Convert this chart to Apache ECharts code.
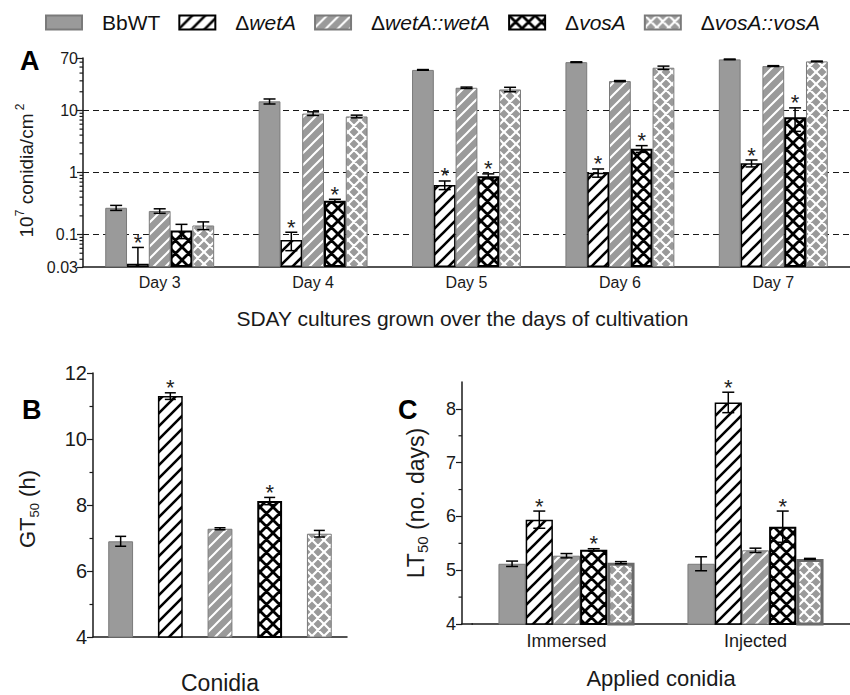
<!DOCTYPE html>
<html><head><meta charset="utf-8">
<script src="https://cdn.jsdelivr.net/npm/echarts@6/dist/echarts.min.js"></script>
<style>html,body{margin:0;padding:0;background:#fff}#c{width:850px;height:695px}</style>
</head><body><div id="c"></div>
<script>
// ---------- data ----------
const strains = ['BbWT', 'ΔwetA', 'ΔwetA::wetA', 'ΔvosA', 'ΔvosA::vosA'];

// Panel A: 10^7 conidia/cm^2 on SDAY, days 3-7
const days = ['Day 3', 'Day 4', 'Day 5', 'Day 6', 'Day 7'];
const conidiaWT        = [0.27, 14, 45, 60, 66.5];
const conidiaWetA      = [0.034, 0.082, 0.63, 0.99, 1.41];
const conidiaWetAComp  = [0.24, 8.9, 23.2, 29.7, 51.9];
const conidiaVosA      = [0.116, 0.35, 0.87, 2.41, 7.8];
const conidiaVosAComp  = [0.14, 8.0, 21.8, 48.8, 61.7];
const conidiaWTErr       = [0.025, 1.3, 0.6, 0.8, 0.8];
const conidiaWetAErr     = [0.028, 0.027, 0.1, 0.15, 0.18];
const conidiaWetACompErr = [0.02, 0.6, 0.6, 0.6, 0.8];
const conidiaVosAErr     = [0.03, 0.02, 0.08, 0.3, 3.2];
const conidiaVosACompErr = [0.02, 0.4, 1.8, 3.0, 0.8];
const conidiaWetAStar = [1, 1, 1, 1, 1];
const conidiaVosAStar = [0, 1, 1, 1, 1];
const conidiaMinorTicks = [0.04, 0.05, 0.06, 0.07, 0.08, 0.09, 0.2, 0.3, 0.4, 0.5, 0.6, 0.7, 0.8, 0.9,
  2, 3, 4, 5, 6, 7, 8, 9, 20, 30, 40, 50, 60];

// Panel B: GT50 (h)
const gtCategories = ['Conidia'];
const gt50    = [6.9, 11.3, 7.28, 8.12, 7.13];
const gt50Err = [0.15, 0.1, 0.03, 0.11, 0.1];
const gt50Star = [0, 1, 0, 1, 0];

// Panel C: LT50 (no. days)
const ltCategories = ['Immersed', 'Injected'];
const lt50WT        = [5.12, 5.12];
const lt50WetA      = [5.94, 8.12];
const lt50WetAComp  = [5.27, 5.37];
const lt50VosA      = [5.38, 5.81];
const lt50VosAComp  = [5.14, 5.21];
const lt50WTErr       = [0.05, 0.13];
const lt50WetAErr     = [0.16, 0.19];
const lt50WetACompErr = [0.04, 0.04];
const lt50VosAErr     = [0.02, 0.29];
const lt50VosACompErr = [0.02, 0.01];
const lt50WetAStar = [1, 1];
const lt50VosAStar = [1, 1];
const lt50MinorTicks = [4.5, 5.5, 6.5, 7.5];

// ---------- styles ----------
const FONT = 'Liberation Sans, Arial, sans-serif';
const INK = '#1a1a1a';
const GRAY = '#9a9a9a';
const GRAY_EDGE = '#7a7a7a';

function pattern(bg, fg, lw, p, cross) {
  const c = document.createElement('canvas');
  c.width = p; c.height = p;
  const g = c.getContext('2d');
  g.fillStyle = bg; g.fillRect(0, 0, p, p);
  g.strokeStyle = fg; g.lineWidth = lw;
  g.beginPath();
  for (const k of [0, p, 2 * p]) { g.moveTo(-2, k + 2); g.lineTo(p + 2, k - p - 2); }
  if (cross) for (const k of [-p, 0, p]) { g.moveTo(-2, k - 2); g.lineTo(p + 2, k + p + 2); }
  g.stroke();
  return { image: c, repeat: 'repeat', imageWidth: p, imageHeight: p };
}

const styles = [
  { color: GRAY, borderColor: GRAY_EDGE, borderWidth: 1 },
  { color: pattern('#ffffff', '#000000', 2.6, 13, false), borderColor: '#000', borderWidth: 1.5 },
  { color: pattern(GRAY, '#ffffff', 2, 12, false), borderColor: GRAY_EDGE, borderWidth: 1 },
  { color: pattern('#ffffff', '#000000', 2.8, 13, true), borderColor: '#000', borderWidth: 2 },
  { color: pattern(GRAY, '#ffffff', 2.2, 12, true), borderColor: GRAY_EDGE, borderWidth: 1 }
];

const panelA = { vals: [conidiaWT, conidiaWetA, conidiaWetAComp, conidiaVosA, conidiaVosAComp],
  errs: [conidiaWTErr, conidiaWetAErr, conidiaWetACompErr, conidiaVosAErr, conidiaVosACompErr],
  stars: [null, conidiaWetAStar, null, conidiaVosAStar, null], cats: days, catGap: 0.29, barGap: 0, cap: 12 };
const panelB = { vals: gt50.map(v => [v]), errs: gt50Err.map(v => [v]), stars: gt50Star.map(v => [v]),
  cats: gtCategories, catGap: 0.12, barGap: 1, cap: 11 };
const panelC = { vals: [lt50WT, lt50WetA, lt50WetAComp, lt50VosA, lt50VosAComp],
  errs: [lt50WTErr, lt50WetAErr, lt50WetACompErr, lt50VosAErr, lt50VosACompErr],
  stars: [null, lt50WetAStar, null, lt50VosAStar, null], cats: ltCategories, catGap: 0.28, barGap: 0, cap: 12 };

const series = [];
[panelA, panelB, panelC].forEach((P, gi) => {
  strains.forEach((s, si) => {
    let st = styles[si];
    if (gi === 2 && si === 4) st = Object.assign({}, st, { borderColor: '#6a6a6a', borderWidth: 3 });
    series.push({
      type: 'bar', name: s, xAxisIndex: gi, yAxisIndex: gi,
      data: P.vals[si], itemStyle: st,
      barGap: P.barGap === 0 ? '0%' : (P.barGap * 100) + '%',
      barCategoryGap: (P.catGap * 100) + '%',
      silent: true
    });
  });
  const rows = [];
  strains.forEach((s, si) => {
    P.vals[si].forEach((v, ci) => {
      rows.push([ci, v, P.errs[si][ci], si, P.stars[si] ? P.stars[si][ci] : 0]);
    });
  });
  const n = strains.length;
  series.push({
    type: 'custom', xAxisIndex: gi, yAxisIndex: gi, data: rows, encode: { x: 0, y: 1 }, z: 10, silent: true,
    renderItem: function (params, api) {
      const cs = params.coordSys;
      const ci = api.value(0), v = api.value(1), e = api.value(2), si = api.value(3), star = api.value(4);
      const band = cs.width / P.cats.length;
      const groupW = band * (1 - P.catGap);
      const bw = groupW / (n + (n - 1) * P.barGap);
      const cx = api.coord([ci, v])[0] - groupW / 2 + bw / 2 + si * bw * (1 + P.barGap);
      const yTop = api.coord([ci, v + e])[1];
      const bottom = cs.y + cs.height;
      let yBot = (v - e > 0) ? api.coord([ci, v - e])[1] : Infinity;
      const clipped = !(yBot <= bottom);
      if (clipped) yBot = bottom;
      const h = P.cap / 2;
      const ls = { stroke: '#000', lineWidth: 1.5 };
      const children = [
        { type: 'line', shape: { x1: cx, y1: yTop, x2: cx, y2: yBot }, style: ls },
        { type: 'line', shape: { x1: cx - h, y1: yTop, x2: cx + h, y2: yTop }, style: ls }
      ];
      if (!clipped) children.push({ type: 'line', shape: { x1: cx - h, y1: yBot, x2: cx + h, y2: yBot }, style: ls });
      if (star) children.push({ type: 'text', x: cx, y: yTop + 6,
        style: { text: '*', fontSize: 22, fontFamily: FONT, fill: '#222', align: 'center', verticalAlign: 'bottom',
          textAlign: 'center', textVerticalAlign: 'bottom' } });
      return { type: 'group', children: children };
    }
  });
});

function minorTickSeries(gi, values, len) {
  return {
    type: 'custom', xAxisIndex: gi, yAxisIndex: gi, silent: true, z: 10,
    data: values.map(v => [0, v]), encode: { x: 0, y: 1 },
    renderItem: function (params, api) {
      const y = api.coord([0, api.value(1)])[1];
      const x = params.coordSys.x - (gi === 2 ? 10 : 0);
      return { type: 'line', shape: { x1: x - len, y1: y, x2: x, y2: y }, style: { stroke: INK, lineWidth: 1.2 } };
    }
  };
}
series.push(minorTickSeries(0, conidiaMinorTicks, 3.5));
series.push(minorTickSeries(2, lt50MinorTicks, 3.5));

const axisLine = { show: true, lineStyle: { color: INK, width: 1.5 } };
const tick = { show: true, length: 6, lineStyle: { color: INK, width: 1.2 } };

const option = {
  animation: false,
  textStyle: { fontFamily: FONT },
  legend: {
    left: 40, top: 7, itemWidth: 36, itemHeight: 14, itemGap: 18, icon: 'rect',
    data: strains, selectedMode: false,
    formatter: name => name.charAt(0) === 'Δ' ? '{d|Δ}{i|' + name.slice(1) + '}' : '{n|' + name + '}',
    textStyle: { fontSize: 21, color: '#111', padding: [0, 0, 0, 15],
      rich: { n: { fontSize: 21, color: '#111', fontFamily: FONT },
              d: { fontSize: 21, color: '#111', fontFamily: FONT },
              i: { fontSize: 21, color: '#111', fontStyle: 'italic', fontFamily: FONT } } }
  },
  grid: [
    { left: 83, top: 58, width: 779, height: 209 },
    { left: 93, top: 373, width: 254, height: 264 },
    { left: 472, top: 382, width: 380, height: 242 }
  ],
  xAxis: [
    { type: 'category', gridIndex: 0, data: days, axisLine: axisLine, axisTick: { show: false },
      axisLabel: { fontSize: 16, color: INK, margin: 7 },
      name: 'SDAY cultures grown over the days of cultivation', nameLocation: 'middle', nameGap: 41,
      nameTextStyle: { fontSize: 21, color: INK, padding: [0, 8, 0, 0] } },
    { type: 'category', gridIndex: 1, data: gtCategories, axisLine: axisLine, axisTick: { show: false },
      axisLabel: { show: false },
      name: 'Conidia', nameLocation: 'middle', nameGap: 34, nameTextStyle: { fontSize: 23, color: INK } },
    { type: 'category', gridIndex: 2, data: ltCategories, axisLine: axisLine, axisTick: { show: false },
      axisLabel: { fontSize: 18, color: INK, margin: 8 },
      name: 'Applied conidia', nameLocation: 'middle', nameGap: 43, nameTextStyle: { fontSize: 22, color: INK } }
  ],
  yAxis: [
    { type: 'log', logBase: 10, gridIndex: 0, min: 0.03, max: 70, startValue: 0.03, axisLine: axisLine, axisTick: tick,
      axisLabel: { fontSize: 16, color: INK, margin: 5, formatter: v => String(+(+v).toPrecision(2)) },
      splitLine: { show: true, showMinLine: false, showMaxLine: false, lineStyle: { color: INK, width: 1.2, type: [6, 4] } },
      name: '{m|10}{sup|7}{m| conidia/cm}{sup| 2}', nameLocation: 'middle', nameGap: 40,
      nameTextStyle: { color: INK, padding: [0, 16, 0, 0], rich: {
        m: { fontSize: 19, color: INK, fontFamily: FONT, lineHeight: 24, verticalAlign: 'middle' },
        sup: { fontSize: 12, color: INK, fontFamily: FONT, lineHeight: 14, verticalAlign: 'top' } } } },
    { type: 'value', gridIndex: 1, min: 4, max: 12, interval: 2, axisLine: axisLine, axisTick: tick,
      minorTick: { show: true, splitNumber: 2, length: 3.5, lineStyle: { color: INK, width: 1.2 } },
      axisLabel: { fontSize: 20, color: INK, margin: 6 }, splitLine: { show: false },
      name: '{m|GT}{sub|50}{m| (h)}', nameLocation: 'middle', nameGap: 52,
      nameTextStyle: { color: INK, padding: [0, 8, 0, 0], rich: {
        m: { fontSize: 22, color: INK, fontFamily: FONT, lineHeight: 28, verticalAlign: 'middle' },
        sub: { fontSize: 13, color: INK, fontFamily: FONT, lineHeight: 14, verticalAlign: 'bottom' } } } },
    { type: 'value', gridIndex: 2, min: 4, max: 8.5, interval: 1, offset: 10, axisLine: axisLine,
      axisTick: Object.assign({ customValues: [4, 5, 6, 7, 8] }, tick),
      axisLabel: { fontSize: 18, color: INK, margin: 6, customValues: [4, 5, 6, 7, 8] }, splitLine: { show: false },
      name: '{m|LT}{sub|50}{m| (no. days)}', nameLocation: 'middle', nameGap: 32,
      nameTextStyle: { color: INK, rich: {
        m: { fontSize: 23, color: INK, fontFamily: FONT, lineHeight: 28, verticalAlign: 'middle' },
        sub: { fontSize: 15, color: INK, fontFamily: FONT, lineHeight: 14, verticalAlign: 'bottom' } } } }
  ],
  graphic: [
    { type: 'text', left: 20, top: 47, style: { text: 'A', font: 'bold 27px ' + FONT, fill: '#000' } },
    { type: 'text', left: 22, top: 396, style: { text: 'B', font: 'bold 27px ' + FONT, fill: '#000' } },
    { type: 'text', left: 398, top: 396, style: { text: 'C', font: 'bold 27px ' + FONT, fill: '#000' } },
    { type: 'line', shape: { x1: 461, y1: 624, x2: 473, y2: 624 }, style: { stroke: INK, lineWidth: 1.5 } }
  ],
  series: series
};

const chart = echarts.init(document.getElementById('c'), null, { renderer: 'svg' });
chart.setOption(option);
</script>
</body></html>
